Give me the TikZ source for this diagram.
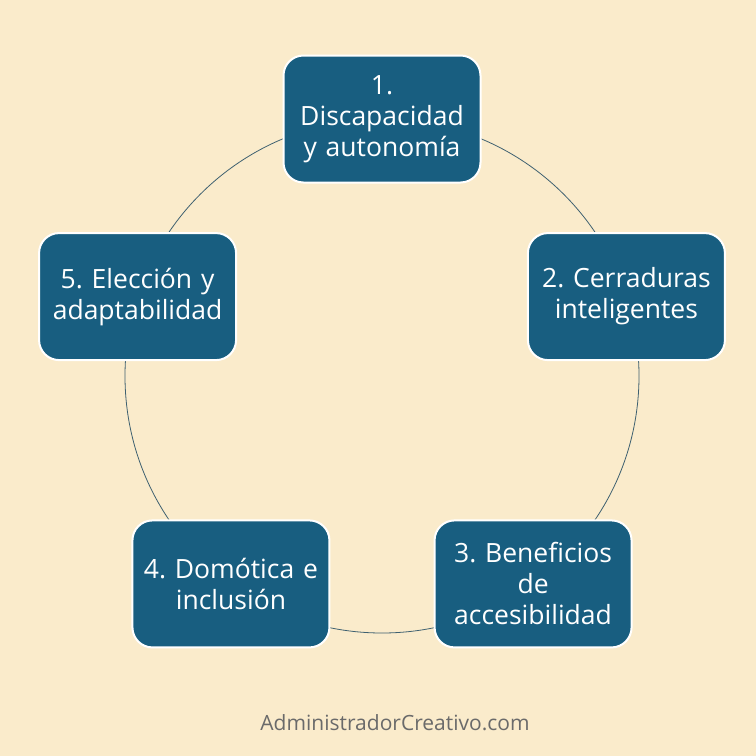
\documentclass[tikz,border=0pt]{standalone}
\usepackage{fontspec}
\setmainfont{Open Sans}
\usepackage{xcolor}
\usetikzlibrary{positioning}
\frenchspacing

\definecolor{parchment}{HTML}{FAEBCB}
\definecolor{boxblue}{HTML}{185E80}
\definecolor{ringline}{HTML}{3E6070}
\definecolor{footgray}{HTML}{6A6A6A}

\begin{document}
\begin{tikzpicture}[x=1pt,y=-1pt,
			step node/.style={rectangle,rounded corners=20pt,draw=white,line width=2pt,
				fill=boxblue,text=white,minimum width=197pt,minimum height=127pt,
				text width=190pt,align=center,font=\fontsize{26.5pt}{31pt}\selectfont}]
			
			\fill[parchment] (0,0) rectangle (756,756);
			\coordinate (c) at (382,376);
			\draw[ringline,line width=0.8pt] (c) circle [radius=257];
			
			\node[step node] (1) at ([shift={(90:-257)}]c) {1.\\ Discapacidad\\ y autonomía};
			\node[step node] (2) at ([shift={(-18:257)}]c) {2. Cerraduras\\ inteligentes};
			\node[step node] (3) at ([shift={(54:257)}]c) {3. Beneficios\\ de\\ accesibilidad};
			\node[step node] (4) at ([shift={(126:257)}]c) {4. Domótica e\\ inclusión};
			\node[step node] (5) at ([shift={(198:257)}]c) {5. Elección y\\ adaptabilidad};
			
			\node[text=footgray,font=\fontsize{21pt}{24pt}\selectfont] (web) at (395,723) {AdministradorCreativo.com};
		\end{tikzpicture}
\end{document}
